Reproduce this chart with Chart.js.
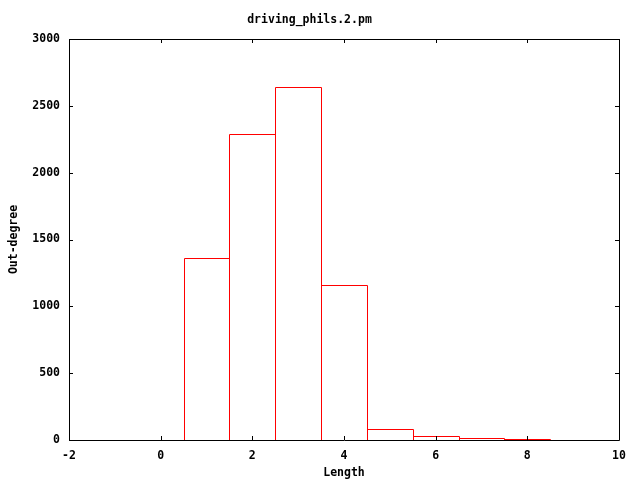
<!DOCTYPE html>
<html>
<head>
<meta charset="utf-8">
<script src="https://cdn.jsdelivr.net/npm/chart.js@4"></script>
<style>
html,body{margin:0;padding:0;background:#fff;}
#wrap{width:640px;height:480px;}
</style>
</head>
<body>
<div id="wrap"><canvas id="c" width="640" height="480"></canvas></div>
<script>
const lengths = [1, 2, 3, 4, 5, 6, 7, 8];
const outDegree = [1359, 2289, 2643, 1162, 80, 28, 13, 5];
const xTicks = [-2, 0, 2, 4, 6, 8, 10];
const yTicks = [0, 500, 1000, 1500, 2000, 2500, 3000];

const FONT = {family: '"DejaVu Sans Mono", "Liberation Mono", monospace', size: 11.5, weight: 'bold'};

const boxes = {
  id: 'boxes',
  afterDatasetsDraw(chart) {
    const {ctx, chartArea: a, scales} = chart;
    const meta = chart.getDatasetMeta(0);
    meta.data.forEach(bar => {
      const l = Math.round(bar.x - bar.width / 2) + 0.5;
      const r = Math.round(bar.x + bar.width / 2) + 0.5;
      const t = Math.round(bar.y) + 0.5;
      const b = Math.round(bar.base) + 0.5;
      ctx.save();
      ctx.lineWidth = 1;
      ctx.strokeStyle = 'rgb(255,0,0)';
      ctx.beginPath();
      ctx.moveTo(l, b); ctx.lineTo(l, t); ctx.lineTo(r, t); ctx.lineTo(r, b);
      ctx.stroke();
      ctx.restore();
    });
    ctx.save();
    ctx.lineWidth = 1;
    ctx.strokeStyle = 'rgb(0,0,0)';
    ctx.beginPath();
    const tl = 4;
    xTicks.forEach(v => {
      const px = Math.round(scales.x.getPixelForValue(v)) + 0.5;
      ctx.moveTo(px, a.bottom); ctx.lineTo(px, a.bottom - tl);
      ctx.moveTo(px, a.top); ctx.lineTo(px, a.top + tl);
    });
    yTicks.forEach(v => {
      const py = Math.round(scales.y.getPixelForValue(v)) + 0.5;
      ctx.moveTo(a.left, py); ctx.lineTo(a.left + tl, py);
      ctx.moveTo(a.right, py); ctx.lineTo(a.right - tl, py);
    });
    ctx.stroke();
    ctx.beginPath();
    ctx.rect(Math.round(a.left) + 0.5, Math.round(a.top) + 0.5, Math.round(a.right - a.left), Math.round(a.bottom - a.top));
    ctx.stroke();
    ctx.restore();
  }
};

new Chart(document.getElementById('c'), {
  type: 'bar',
  data: {
    datasets: [{
      data: lengths.map((x, i) => ({x: x, y: outDegree[i]})),
      backgroundColor: 'rgba(255,255,255,0)',
      borderColor: 'rgba(0,0,0,0)',
      borderWidth: 0,
      barPercentage: 1,
      categoryPercentage: 1,
      grouped: false
    }]
  },
  options: {
    responsive: false,
    animation: false,
    layout: {padding: {left: 0, right: 21, top: 0, bottom: 0}},
    plugins: {
      legend: {display: false},
      tooltip: {enabled: false},
      title: {
        display: true,
        text: 'driving_phils.2.pm',
        color: '#000',
        font: {...FONT, lineHeight: 1},
        padding: {top: 14, bottom: 13.5}
      }
    },
    scales: {
      x: {
        type: 'linear',
        min: -2, max: 10,
        offset: false,
        afterFit(s) { s.height = 40; },
        grid: {display: false, drawTicks: false},
        border: {display: false},
        ticks: {stepSize: 2, color: '#000', font: FONT, padding: 9, maxRotation: 0, autoSkip: false,
                callback: v => String(v)},
        title: {display: true, text: 'Length', color: '#000', font: FONT, padding: {top: 5, bottom: 0}}
      },
      y: {
        min: 0, max: 3000,
        afterFit(s) { s.width = 69; },
        grid: {display: false, drawTicks: false},
        border: {display: false},
        ticks: {stepSize: 500, color: '#000', font: FONT, padding: 9, callback: v => String(v)},
        title: {display: true, text: 'Out-degree', color: '#000', font: FONT, padding: {top: 7, bottom: 0}}
      }
    }
  },
  plugins: [boxes]
});
</script>
</body>
</html>
